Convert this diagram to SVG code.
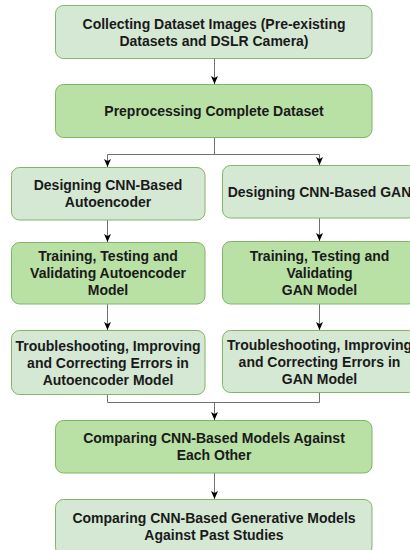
<svg xmlns="http://www.w3.org/2000/svg" width="410" height="550" viewBox="0 0 410 550">
  <defs>
    <style>
      .box { stroke: #82b366; stroke-width: 1; }
      .light { fill: #d5e8d4; }
      .dark { fill: #b9e0a5; }
      .lbl { font-family: "Liberation Sans", Arial, Helvetica, sans-serif; font-size: 14px; font-weight: bold; fill: #1a1a1a; text-anchor: middle; }
      .edge { fill: none; stroke: #707070; stroke-width: 1; }
    </style>
    <marker id="arrow" markerUnits="userSpaceOnUse" markerWidth="10" markerHeight="10" viewBox="0 0 10 10" refX="9" refY="5" orient="auto">
      <path d="M1,1.5 L9,5 L1,8.5 L3,5 Z" fill="#000"/>
    </marker>
  </defs>

  <rect width="410" height="550" fill="#ffffff"/>

  <!-- connectors -->
  <g id="connectors">
    <path class="edge" d="M214.5,59 V84" marker-end="url(#arrow)"/>
    <path class="edge" d="M214.5,138 V154.5 H107.5 V167" marker-end="url(#arrow)"/>
    <path class="edge" d="M214.5,154.5 H319.5 V165" marker-end="url(#arrow)"/>
    <path class="edge" d="M107.5,220 V242" marker-end="url(#arrow)"/>
    <path class="edge" d="M319.5,218 V241" marker-end="url(#arrow)"/>
    <path class="edge" d="M107.5,304 V330" marker-end="url(#arrow)"/>
    <path class="edge" d="M319.5,304 V330" marker-end="url(#arrow)"/>
    <path class="edge" d="M107.5,394.5 V402.5 H319.5 V392.5"/>
    <path class="edge" d="M214.5,402.5 V420" marker-end="url(#arrow)"/>
    <path class="edge" d="M214.5,473 V499" marker-end="url(#arrow)"/>
  </g>

  <g id="collect">
    <rect class="box light" x="55.5" y="5.5" width="316.5" height="53" rx="8"/>
    <text class="lbl" x="214" y="28.5">Collecting Dataset Images (Pre-existing</text>
    <text class="lbl" x="214" y="45.5">Datasets and DSLR Camera)</text>
  </g>

  <g id="preprocess">
    <rect class="box dark" x="55.5" y="84.5" width="316.5" height="53" rx="8"/>
    <text class="lbl" x="214" y="116">Preprocessing Complete Dataset</text>
  </g>

  <g id="design-ae">
    <rect class="box light" x="11.5" y="167.5" width="193.5" height="52.5" rx="8"/>
    <text class="lbl" x="108" y="190">Designing CNN-Based</text>
    <text class="lbl" x="108" y="207">Autoencoder</text>
  </g>

  <g id="design-gan">
    <rect class="box light" x="222.5" y="165.5" width="194" height="52.5" rx="8"/>
    <text class="lbl" x="319.5" y="197">Designing CNN-Based GAN</text>
  </g>

  <g id="train-ae">
    <rect class="box dark" x="11.5" y="242.5" width="193.5" height="61.5" rx="8"/>
    <text class="lbl" x="108" y="261">Training, Testing and</text>
    <text class="lbl" x="108" y="278">Validating Autoencoder</text>
    <text class="lbl" x="108" y="295">Model</text>
  </g>

  <g id="train-gan">
    <rect class="box dark" x="222.5" y="241.5" width="194" height="62.5" rx="8"/>
    <text class="lbl" x="319.5" y="261">Training, Testing and</text>
    <text class="lbl" x="319.5" y="278">Validating</text>
    <text class="lbl" x="319.5" y="295">GAN Model</text>
  </g>

  <g id="fix-ae">
    <rect class="box light" x="11.5" y="330.5" width="193.5" height="64" rx="8"/>
    <text class="lbl" x="108" y="351">Troubleshooting, Improving</text>
    <text class="lbl" x="108" y="368">and Correcting Errors in</text>
    <text class="lbl" x="108" y="385">Autoencoder Model</text>
  </g>

  <g id="fix-gan">
    <rect class="box light" x="222.5" y="330.5" width="194" height="62" rx="8"/>
    <text class="lbl" x="319.5" y="350">Troubleshooting, Improving</text>
    <text class="lbl" x="319.5" y="367">and Correcting Errors in</text>
    <text class="lbl" x="319.5" y="384">GAN Model</text>
  </g>

  <g id="compare-models">
    <rect class="box dark" x="55.5" y="420.5" width="316.5" height="52.5" rx="8"/>
    <text class="lbl" x="214" y="443">Comparing CNN-Based Models Against</text>
    <text class="lbl" x="214" y="460">Each Other</text>
  </g>

  <g id="compare-past">
    <rect class="box light" x="55.5" y="499.5" width="316.5" height="56" rx="8"/>
    <text class="lbl" x="214" y="523">Comparing CNN-Based Generative Models</text>
    <text class="lbl" x="214" y="540">Against Past Studies</text>
  </g>
</svg>
